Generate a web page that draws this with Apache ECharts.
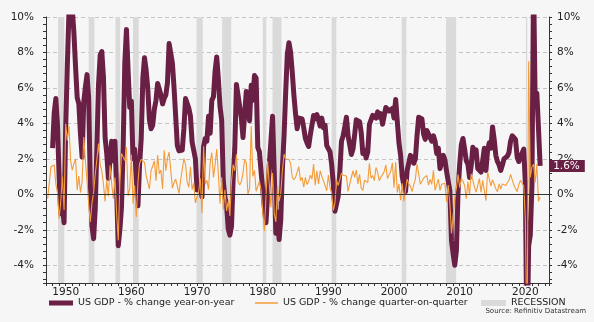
<!DOCTYPE html>
<html>
<head>
<meta charset="utf-8">
<script src="https://cdn.jsdelivr.net/npm/echarts@6/dist/echarts.min.js"></script>
<style>
  html, body { margin: 0; padding: 0; background: #f6f6f6; }
  #chart { width: 594px; height: 322px; }
</style>
</head>
<body>
<div id="chart"></div>
<script>
// US real GDP growth, quarterly (%)
// quarter-on-quarter change, first value = 1947 Q2
const qoqStart = [1947, 2];
const qoqValues = [
  -0.25, -0.2, 1.56,
  1.51, 1.66, 0.57, 0.1,
  -1.38, -0.38, 1.01, -0.88,
  3.98, 3.03, 3.85, 1.89,
  1.37, 1.73, 1.99, 0.25,
  1.03, 0.1, 0.74, 3.23,
  1.87, 0.77, -0.56, -1.56,
  -0.48, 0.1, 1.13, 1.97,
  2.87, 1.66, 1.33, 0.57,
  -0.4, 0.79, -0.1, 1.64,
  0.62, -0.25, 0.96, -1.04,
  -2.59, 0.64, 2.31, 2.34,
  1.9, 2.66, -0.08, 0.32,
  2.24, -0.53, 0.5, -1.28,
  0.67, 1.75, 1.97, 1.97,
  1.8, 1.06, 0.99, 0.3,
  1.33, 1.23, 1.89, 0.77,
  2.22, 1.16, 1.37, 0.3,
  2.48, 1.33, 2.03, 2.38,
  2.43, 0.35, 0.67, 0.86,
  0.84, 0.05, 0.79, 0.79,
  2.02, 1.68, 0.69, 0.4,
  1.56, 0.27, 0.62, -0.48,
  -0.15, 0.15, 0.91, -1.07,
  2.71, 0.57, 0.79, 0.27,
  1.78, 2.36, 0.96, 1.66,
  2.55, 1.16, -0.53, 0.96,
  -0.86, 0.25, -0.94, -0.38,
  -1.22, 0.77, 1.68, 1.33,
  2.26, 0.74, 0.52, 0.72,
  1.2, 1.97, 1.8, 0.02,
  0.32, 3.85, 1.01, 1.35,
  0.17, 0.1, 0.74, 0.25,
  0.32, -2.06, -0.13, 1.87,
  1.97, -0.73, 1.2, -1.09,
  -1.56, 0.45, -0.38, 0.05,
  1.33, 2.26, 1.99, 2.08,
  1.97, 1.73, 0.96, 0.82,
  0.96, 0.89, 1.56, 0.77,
  0.96, 0.4, 0.96, 0.55,
  0.74, 1.08, 0.86, 1.71,
  0.52, 1.33, 0.59, 1.33,
  1.01, 0.77, 0.74, 0.2,
  1.08, 0.37, 0.07, -0.91,
  -0.48, 0.79, 0.5, 0.47,
  1.2, 1.08, 0.99, 1.03,
  0.17, 0.57, 0.47, 1.33,
  0.96, 1.37, 0.59, 1.13,
  0.35, 0.22, 0.79, 0.69,
  0.67, 1.75, 0.91, 1.06,
  0.77, 1.51, 1.25, 0.77,
  0.96, 0.91, 1.28, 1.66,
  0.89, 0.81, 1.3, 1.78,
  0.37, 1.82, 0.1, 0.59,
  -0.33, 0.62, -0.4, 0.27,
  0.86, 0.59, 0.45, 0.15,
  0.55, 0.86, 1.71, 1.16,
  0.57, 0.74, 0.91, 0.86,
  1.06, 0.52, 0.84, 0.57,
  1.35, 0.22, 0.15, 0.86,
  0.22, 0.57, 0.55, 0.62,
  -0.43, 0.52, -0.53, -2.2,
  -1.17, -0.18, 0.37, 1.11,
  0.37, 0.91, 0.74, 0.5,
  -0.25, 0.72, -0.03, 1.16,
  0.79, 0.42, 0.12, 0.12,
  0.89, 0.12, 0.79, 0.79,
  -0.35, 1.27, 1.2, 0.47,
  0.82, 0.57, 0.32, 0.15,
  0.59, 0.3, 0.59, 0.5,
  0.5, 0.57, 0.79, 1.13,
  0.82, 0.52, 0.62, 0.15,
  0.55, 0.79, 0.69, 0.47,
  -1.4, -8.9, 7.5, 0.96,
  1.54, 1.7, 0.67, 1.71,
  -0.4, -0.15
];

// year-on-year change, first value = 1948 Q1
const yoyStart = [1948, 1];
const yoyValues = [
  2.6, 4.6, 5.4, 3.9,
  0.95, -1.1, -0.65, -1.6,
  3.8, 7.3, 10.3, 13.35,
  10.5, 9.1, 7.2, 5.45,
  5.1, 3.4, 2.1, 5.2,
  6.05, 6.75, 5.4, 0.5,
  -1.8, -2.5, -0.8, 2.7,
  6.2, 7.85, 8.05, 6.6,
  3.2, 2.3, 0.9, 1.9,
  3.0, 1.9, 3.0, 0.3,
  -2.9, -2.0, -0.7, 2.7,
  7.4, 9.3, 7.0, 4.9,
  5.25, 2.0, 2.55, 0.9,
  -0.65, 1.65, 3.15, 6.55,
  7.7, 7.0, 5.95, 4.2,
  3.7, 3.9, 4.8, 5.3,
  6.25, 6.15, 5.6, 5.1,
  5.4, 5.6, 6.3, 8.5,
  8.45, 7.4, 6.0, 4.4,
  2.75, 2.45, 2.55, 2.5,
  3.7, 5.4, 5.3, 4.85,
  4.4, 2.95, 2.9, 2.0,
  0.25, 0.15, 0.45, -0.15,
  2.7, 3.15, 3.0, 4.4,
  3.45, 5.3, 5.5, 6.95,
  7.75, 6.5, 4.95, 4.2,
  0.75, -0.18, -0.6, -1.95,
  -2.3, -1.8, 0.85, 2.6,
  6.2, 6.15, 4.95, 4.3,
  3.2, 4.5, 5.8, 5.05,
  4.15, 6.15, 5.3, 6.7,
  6.55, 2.65, 2.4, 1.3,
  1.4, -0.75, -1.6, 0.0,
  1.65, 3.0, 4.4, 1.35,
  -2.2, -1.0, -2.55, -1.45,
  1.45, 3.3, 5.75, 7.9,
  8.55, 8.0, 6.9, 5.6,
  4.55, 3.7, 4.3, 4.25,
  4.25, 3.75, 3.15, 2.9,
  2.7, 3.35, 3.25, 4.45,
  4.25, 4.5, 4.2, 3.85,
  4.3, 3.75, 3.9, 2.75,
  2.8, 2.4, 1.7, 0.6,
  -0.95, -0.53, -0.1, 1.3,
  3.0, 3.3, 3.8, 4.35,
  3.3, 2.8, 2.25, 2.55,
  3.35, 4.2, 4.3, 4.1,
  3.5, 2.3, 2.5, 2.05,
  2.4, 3.95, 4.05, 4.45,
  4.55, 4.3, 4.65, 4.35,
  4.55, 3.95, 3.95, 4.9,
  4.8, 4.7, 4.75, 4.85,
  4.3, 5.35, 4.1, 2.9,
  2.2, 1.0, 0.5, 0.15,
  1.35, 1.3, 2.2, 2.05,
  1.75, 2.0, 3.3, 4.35,
  4.35, 4.25, 3.4, 3.1,
  3.6, 3.4, 3.3, 3.0,
  3.3, 3.0, 2.3, 2.6,
  1.45, 1.8, 2.2, 1.95,
  1.3, 1.25, 0.2, -2.6,
  -3.35, -4.0, -3.15, 0.15,
  1.7, 2.8, 3.15, 2.55,
  1.9, 1.7, 0.95, 1.6,
  2.65, 2.35, 2.5, 1.45,
  1.55, 1.25, 1.9, 2.6,
  1.35, 2.5, 2.9, 2.6,
  3.8, 3.1, 2.2, 1.85,
  1.65, 1.35, 1.65, 2.0,
  1.9, 2.15, 2.35, 3.0,
  3.3, 3.3, 3.1, 2.1,
  1.85, 2.1, 2.2, 2.55,
  0.6, -9.1, -2.9, -2.3,
  0.5, 12.1, 4.95, 5.7,
  3.7, 1.6
];

// NBER recessions (decimal years: peak → trough)
const recessionStart = [1948.83, 1953.5, 1957.58, 1960.25, 1969.92, 1973.83, 1980.0, 1981.5, 1990.5, 2001.17, 2007.92, 2020.08];
const recessionEnd   = [1949.79, 1954.37, 1958.29, 1961.12, 1970.87, 1975.21, 1980.54, 1982.87, 1991.21, 2001.87, 2009.46, 2020.29];

const decadeLabels = [1950, 1960, 1970, 1980, 1990, 2000, 2010, 2020];

const seriesNames = {
  yoy: 'US GDP - % change year-on-year',
  qoq: 'US GDP - % change quarter-on-quarter',
  rec: 'RECESSION'
};
const sourceNote = 'Source: Refinitiv Datastream';

const COL_YOY = '#6a1f44';
const COL_QOQ = '#f39c3a';
const COL_REC = '#dadada';
const FONT = 'DejaVu Sans';

// place quarterly observations on a decimal-year axis (start of quarter)
function toPoints(start, values) {
  return values.map((v, i) => {
    const q = start[1] - 1 + i;
    return [start[0] + q / 4, v];
  });
}

const yoyData = toPoints(yoyStart, yoyValues);
const qoqData = toPoints(qoqStart, qoqValues);
const recessionAreas = recessionStart.map((s, i) => [{ xAxis: s }, { xAxis: recessionEnd[i] }]);

const yAxisBase = {
  type: 'value',
  min: -5,
  max: 10,
  splitNumber: 7,
  minInterval: 2,
  maxInterval: 2,
  axisLine: { show: true, lineStyle: { color: '#333', width: 1 } },
  axisTick: { show: true, length: 3, lineStyle: { color: '#333' } },
  minorTick: { show: true, splitNumber: 5, length: 3, lineStyle: { color: '#333' } },
  axisLabel: {
    fontFamily: FONT, fontSize: 10.5, color: '#222',
    formatter: v => (v === -5 ? '' : v + '%')
  }
};

const legendText = { fontFamily: FONT, fontSize: 9.5, color: '#222' };

const chart = echarts.init(document.getElementById('chart'), null, { renderer: 'canvas' });

chart.setOption({
  animation: false,
  backgroundColor: '#f6f6f6',
  textStyle: { fontFamily: FONT },
  title: {
    text: sourceNote,
    right: 8,
    top: 308,
    padding: 0,
    textStyle: { fontFamily: FONT, fontSize: 7, fontWeight: 'normal', color: '#333' }
  },
  legend: [
    {
      left: 49, top: 298, padding: 0, itemWidth: 24, itemHeight: 5, itemGap: 0,
      icon: 'rect', selectedMode: false, textStyle: legendText,
      data: [{ name: seriesNames.yoy, itemStyle: { color: COL_YOY } }]
    },
    {
      left: 255, top: 298, padding: 0, itemWidth: 23, itemHeight: 1.5, itemGap: 0,
      icon: 'rect', selectedMode: false, textStyle: legendText,
      data: [{ name: seriesNames.qoq, itemStyle: { color: COL_QOQ } }]
    },
    {
      left: 481, top: 298, padding: 0, itemWidth: 25, itemHeight: 6, itemGap: 0,
      icon: 'rect', selectedMode: false, textStyle: legendText,
      data: [{ name: seriesNames.rec, itemStyle: { color: COL_REC } }]
    }
  ],
  grid: { left: 46, right: 45, top: 17, bottom: 39, containLabel: false },
  xAxis: {
    type: 'value',
    min: 1947,
    max: 2023.6,
    interval: 1,
    splitLine: { show: false },
    axisLine: { show: true, onZero: false, lineStyle: { color: '#333', width: 1 } },
    axisTick: { show: true, length: 3, lineStyle: { color: '#333' } },
    axisLabel: {
      fontFamily: FONT, fontSize: 10.5, color: '#222', margin: 4,
      showMinLabel: true, showMaxLabel: true,
      formatter: v => (decadeLabels.includes(Math.round(v)) && Math.abs(v - Math.round(v)) < 1e-6 ? String(Math.round(v)) : '')
    }
  },
  yAxis: [
    Object.assign({}, yAxisBase, {
      position: 'left',
      axisLabel: Object.assign({}, yAxisBase.axisLabel, { margin: 12 }),
      splitLine: { show: true, showMinLine: false, lineStyle: { color: '#c4c4c4', type: [4, 3], width: 1 } }
    }),
    Object.assign({}, yAxisBase, {
      position: 'right',
      axisLabel: Object.assign({}, yAxisBase.axisLabel, { margin: 8 }),
      splitLine: { show: false }
    })
  ],
  series: [
    {
      name: seriesNames.rec,
      type: 'line',
      data: [],
      z: 1,
      silent: true,
      itemStyle: { color: COL_REC },
      lineStyle: { color: COL_REC },
      markArea: {
        silent: true,
        itemStyle: { color: COL_REC, opacity: 1 },
        data: recessionAreas
      },
      markLine: {
        silent: true,
        symbol: 'none',
        label: { show: false },
        lineStyle: { color: '#333', type: 'solid', width: 1 },
        data: [{ yAxis: 0 }]
      }
    },
    {
      name: seriesNames.yoy,
      type: 'line',
      data: yoyData,
      z: 3,
      showSymbol: false,
      symbol: 'none',
      clip: true,
      itemStyle: { color: COL_YOY },
      lineStyle: { color: COL_YOY, width: 5, join: 'round', cap: 'butt' },
      endLabel: {
        show: true,
        distance: 9,
        formatter: p => p.value[1].toFixed(1) + '%',
        backgroundColor: COL_YOY,
        color: '#fff',
        fontFamily: FONT,
        fontSize: 10.5,
        lineHeight: 12,
        padding: [0, 5, 0, 4]
      }
    },
    {
      name: seriesNames.qoq,
      type: 'line',
      data: qoqData,
      z: 4,
      showSymbol: false,
      symbol: 'none',
      clip: true,
      itemStyle: { color: COL_QOQ },
      lineStyle: { color: COL_QOQ, width: 1.1 }
    }
  ]
});
</script>
</body>
</html>
